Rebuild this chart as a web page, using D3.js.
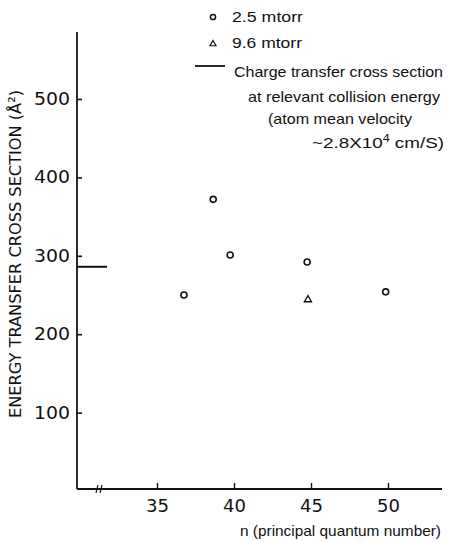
<!DOCTYPE html>
<html><head><meta charset="utf-8">
<script src="https://cdn.jsdelivr.net/npm/d3@7/dist/d3.min.js"></script>
<style>body{margin:0;background:#fff}svg{display:block}text{fill:#111}</style>
</head><body>
<script>
const lowPressureN = [36.75, 38.65, 39.75, 44.75, 49.85];
const lowPressureSigma = [250, 372, 301, 292, 254];
const highPressureN = [44.8];
const highPressureSigma = [244];
const chargeTransferSigma = 286;
const xTicks = [35, 40, 45, 50];
const yTicks = [100, 200, 300, 400, 500];
const legendLabels = ["2.5 mtorr", "9.6 mtorr", "Charge transfer cross section"];

const W = 452, H = 542;
const svg = d3.select("body").append("svg").attr("width", W).attr("height", H);
const x = d3.scaleLinear().domain([35, 50]).range([157, 388]);
const y = d3.scaleLinear().domain([0, 500]).range([491, 99]);
const axisX = 77, axisY = 489;
const font = "'DejaVu Sans', sans-serif";
const textFont = "'Liberation Sans', Arial, sans-serif";

// y axis
const gy = svg.append("g").attr("transform", `translate(${axisX},0)`)
  .call(d3.axisLeft(y).tickValues(yTicks).tickSizeInner(-5).tickSizeOuter(0).tickPadding(7));
gy.select(".domain").remove();
gy.selectAll(".tick line").attr("stroke", "#111").attr("stroke-width", 1.6);
gy.selectAll(".tick text").attr("font-family", font).attr("font-size", 17).attr("fill", "#111")
  .attr("textLength", 36).attr("lengthAdjust", "spacingAndGlyphs");
svg.append("line").attr("x1", axisX).attr("x2", axisX).attr("y1", 32).attr("y2", axisY)
  .attr("stroke", "#111").attr("stroke-width", 1.8);

// x axis
const gx = svg.append("g").attr("transform", `translate(0,${axisY})`)
  .call(d3.axisBottom(x).tickValues(xTicks).tickSizeInner(-6).tickSizeOuter(0).tickPadding(11));
gx.select(".domain").remove();
gx.selectAll(".tick line").attr("stroke", "#111").attr("stroke-width", 1.4);
gx.selectAll(".tick text").attr("font-family", font).attr("font-size", 17).attr("fill", "#111")
  .attr("textLength", 23).attr("lengthAdjust", "spacingAndGlyphs");
svg.append("line").attr("x1", axisX).attr("x2", 442).attr("y1", axisY).attr("y2", axisY)
  .attr("stroke", "#111").attr("stroke-width", 1.8);
// axis break
[97, 101].forEach(bx => svg.append("line").attr("x1", bx - 1).attr("x2", bx + 1)
  .attr("y1", axisY + 4).attr("y2", axisY - 4).attr("stroke", "#111").attr("stroke-width", 1.2));

// axis titles
svg.append("text").attr("transform", "translate(21,254) rotate(-90)")
  .attr("text-anchor", "middle").attr("font-family", font).attr("font-size", 16.5)
  .attr("textLength", 328).attr("lengthAdjust", "spacingAndGlyphs")
  .text("ENERGY TRANSFER CROSS SECTION (Å²)");
svg.append("text").attr("x", 240).attr("y", 536).attr("font-family", textFont).attr("font-size", 14.5)
  .attr("textLength", 201).attr("lengthAdjust", "spacingAndGlyphs")
  .text("n (principal quantum number)");

// charge transfer reference line
svg.append("line").attr("x1", axisX).attr("x2", 107)
  .attr("y1", y(chargeTransferSigma)).attr("y2", y(chargeTransferSigma))
  .attr("stroke", "#111").attr("stroke-width", 2);

// data
svg.selectAll("circle.low").data(lowPressureN.map((n, i) => [n, lowPressureSigma[i]]))
  .enter().append("circle").attr("class", "low")
  .attr("cx", d => x(d[0])).attr("cy", d => y(d[1])).attr("r", 3)
  .attr("fill", "none").attr("stroke", "#111").attr("stroke-width", 1.6);
const tri = d3.symbol().type(d3.symbolTriangle).size(22);
svg.selectAll("path.high").data(highPressureN.map((n, i) => [n, highPressureSigma[i]]))
  .enter().append("path").attr("class", "high").attr("d", tri)
  .attr("transform", d => `translate(${x(d[0])},${y(d[1])})`)
  .attr("fill", "none").attr("stroke", "#111").attr("stroke-width", 1.3);

// legend
svg.append("circle").attr("cx", 213).attr("cy", 17).attr("r", 2.6)
  .attr("fill", "none").attr("stroke", "#111").attr("stroke-width", 1.5);
svg.append("path").attr("d", d3.symbol().type(d3.symbolTriangle).size(16))
  .attr("transform", "translate(213,44)").attr("fill", "none").attr("stroke", "#111").attr("stroke-width", 1.2);
svg.append("line").attr("x1", 195).attr("x2", 225).attr("y1", 66).attr("y2", 66)
  .attr("stroke", "#111").attr("stroke-width", 1.8);
const leg = [
  {t: legendLabels[0], x: 232, y: 22, w: 71},
  {t: legendLabels[1], x: 232, y: 48, w: 70},
  {t: legendLabels[2], x: 234, y: 77, w: 209},
  {t: "at relevant collision energy", x: 248, y: 102, w: 192},
  {t: "(atom mean velocity", x: 268, y: 124, w: 144},
];
leg.forEach(d => svg.append("text").attr("x", d.x).attr("y", d.y)
  .attr("font-family", textFont).attr("font-size", 15)
  .attr("textLength", d.w).attr("lengthAdjust", "spacingAndGlyphs").text(d.t));
const last = svg.append("text").attr("x", 312).attr("y", 148)
  .attr("font-family", textFont).attr("font-size", 15);
last.append("tspan").text("~2.8X10");
last.append("tspan").attr("dy", -6).attr("font-size", 10).text("4");
last.append("tspan").attr("dy", 6).text(" cm/S)");
last.attr("textLength", 132).attr("lengthAdjust", "spacingAndGlyphs");
</script>
</body></html>
